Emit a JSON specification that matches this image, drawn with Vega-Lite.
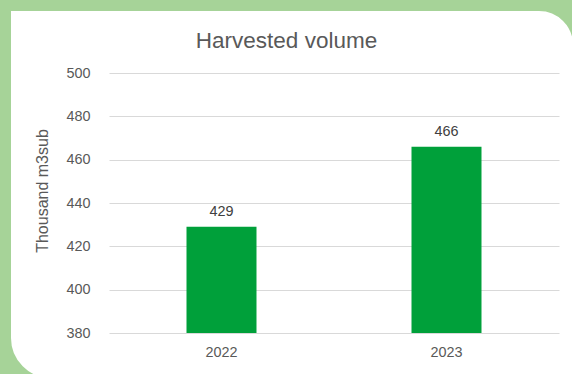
{
  "$schema": "https://vega.github.io/schema/vega-lite/v6.json",
  "width": 450,
  "height": 260,
  "autosize": "none",
  "padding": {"left": 109, "top": 73, "right": 13, "bottom": 41},
  "background": "white",
  "config": {"font": "Liberation Sans", "view": {"stroke": null}},
  "title": {
    "text": "Harvested volume",
    "frame": "group",
    "anchor": "middle",
    "dx": -47.5,
    "dy": 117,
    "fontSize": 22.5,
    "fontWeight": "normal",
    "color": "#595959",
    "baseline": "alphabetic",
    "offset": 18
  },
  "data": {"values": [{"year": "2022", "volume": 429}, {"year": "2023", "volume": 466}]},
  "layer": [
    {
      "mark": {"type": "bar", "color": "#00A03A"},
      "encoding": {
        "x": {
          "field": "year",
          "type": "nominal",
          "scale": {"paddingInner": 0.6889, "paddingOuter": 0.34445},
          "axis": {
            "title": null,
            "labelAngle": 0,
            "labelFontSize": 14.4,
            "labelColor": "#595959",
            "labelBaseline": "alphabetic",
            "labelPadding": 23.7,
            "ticks": false,
            "tickSize": 0,
            "domain": false,
            "grid": false
          }
        },
        "y": {
          "field": "volume",
          "type": "quantitative",
          "scale": {"domain": [380, 500], "nice": false, "zero": false},
          "axis": {
            "values": [380, 400, 420, 440, 460, 480, 500],
            "title": "Thousand m3sub",
            "titleFontSize": 16,
            "titleFontWeight": "normal",
            "titleColor": "#595959",
            "titleX": -67,
            "titleY": 117.5,
            "titleAlign": "center",
            "titleBaseline": "middle",
            "labelFontSize": 14.4,
            "labelColor": "#595959",
            "labelPadding": 19,
            "ticks": false,
            "tickSize": 0,
            "domain": false,
            "grid": true,
            "gridColor": "#D9D9D9",
            "gridWidth": 1
          }
        },
        "y2": {"datum": 380}
      }
    },
    {
      "mark": {"type": "text", "baseline": "alphabetic", "dy": -10.6, "fontSize": 14.4, "color": "#404040"},
      "encoding": {
        "x": {"field": "year", "type": "nominal"},
        "y": {"field": "volume", "type": "quantitative"},
        "text": {"field": "volume", "type": "quantitative"}
      }
    },
    {
      "data": {"values": [{}]},
      "mark": {
        "type": "rect",
        "filled": false,
        "stroke": "#A6D398",
        "strokeWidth": 40,
        "strokeJoin": "miter",
        "cornerRadiusTopRight": 54,
        "cornerRadiusBottomLeft": 60
      },
      "encoding": {
        "x": {"value": -118},
        "x2": {"value": 484},
        "y": {"value": -82},
        "y2": {"value": 325}
      }
    }
  ]
}
